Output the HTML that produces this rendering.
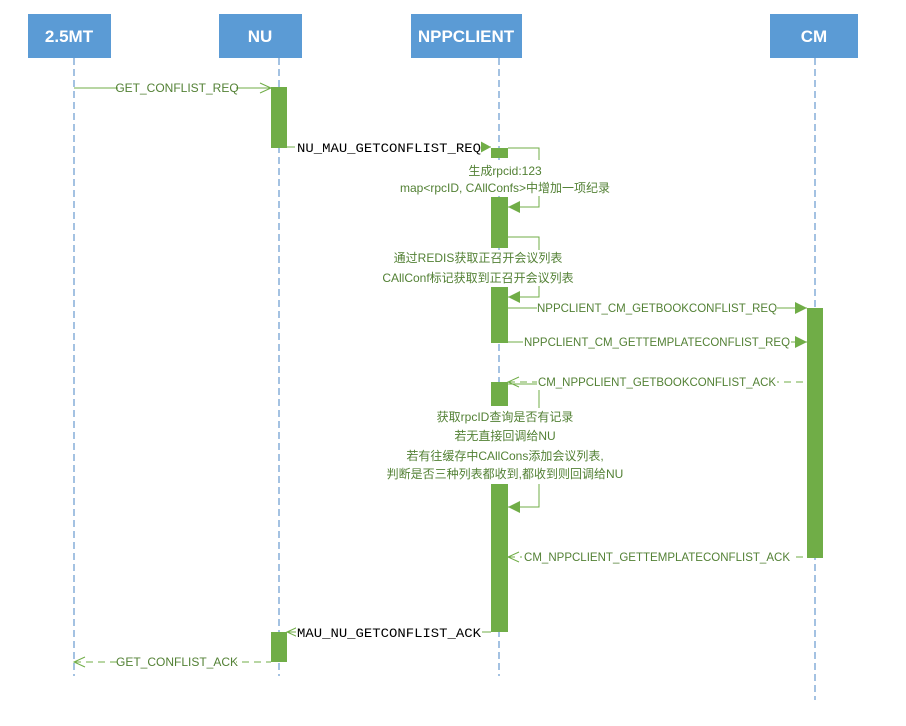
<!DOCTYPE html>
<html><head><meta charset="utf-8"><style>
html,body{margin:0;padding:0;background:#fff;width:906px;height:726px;overflow:hidden}
text{font-family:"Liberation Sans","Noto Sans CJK SC",sans-serif;font-size:12px;fill:#538135}
.b{fill:#000;font-family:"Liberation Mono","Noto Sans CJK SC",monospace;font-size:13px}
.h{fill:#fff;font-weight:bold;font-size:17px}
</style></head><body>
<svg width="906" height="726" xmlns="http://www.w3.org/2000/svg">
<g stroke="#4a86c5" stroke-dasharray="7,4" stroke-width="1">
<line x1="74" y1="58" x2="74" y2="676"/>
<line x1="279" y1="58" x2="279" y2="676"/>
<line x1="499" y1="58" x2="499" y2="676"/>
<line x1="815" y1="58" x2="815" y2="700"/>
</g>
<g fill="#5b9bd5">
<rect x="28" y="14" width="83" height="44"/>
<rect x="219" y="14" width="83" height="44"/>
<rect x="411" y="14" width="111" height="44"/>
<rect x="770" y="14" width="88" height="44"/>
</g>
<text class="h" x="69" y="42" text-anchor="middle">2.5MT</text>
<text class="h" x="260" y="42" text-anchor="middle">NU</text>
<text class="h" x="466" y="42" text-anchor="middle">NPPCLIENT</text>
<text class="h" x="814" y="42" text-anchor="middle">CM</text>
<g stroke="#70ad47" fill="none" stroke-width="1">
<line x1="74" y1="88" x2="271" y2="88"/>
<polyline points="260,83 271,88 260,93"/>
<line x1="287" y1="147" x2="491" y2="147"/>
<polyline points="508,148 539,148 539,207 508,207"/>
<polyline points="508,237 539,237 539,297 508,297"/>
<polyline points="508,384 539,384 539,507 508,507"/>
<line x1="508" y1="308" x2="807" y2="308"/>
<line x1="491" y1="342" x2="807" y2="342"/>
<line x1="508" y1="382" x2="807" y2="382" stroke-dasharray="7,5"/>
<polyline points="519,377 508,382 519,387"/>
<line x1="508" y1="557" x2="807" y2="557" stroke-dasharray="7,5"/>
<polyline points="519,552 508,557 519,562"/>
<line x1="287" y1="632" x2="491" y2="632"/>
<polyline points="298,627 287,632 298,637"/>
<line x1="74" y1="662" x2="271" y2="662" stroke-dasharray="7,5"/>
<polyline points="85,657 74,662 85,667"/>
</g>
<rect x="380" y="160" width="250" height="36" fill="#fff"/>
<rect x="385" y="250" width="190" height="36" fill="#fff"/>
<rect x="360" y="408" width="290" height="76" fill="#fff"/>
<g fill="#70ad47">
<rect x="271" y="87" width="16" height="61"/>
<rect x="271" y="632" width="16" height="30"/>
<rect x="491" y="148" width="17" height="10"/>
<rect x="491" y="197" width="17" height="51"/>
<rect x="491" y="287" width="17" height="56"/>
<rect x="491" y="382" width="17" height="24"/>
<rect x="491" y="484" width="17" height="148"/>
<rect x="807" y="308" width="16" height="250"/>
<polygon points="491,147 480,141 480,153"/>
<polygon points="508,207 520,201 520,213"/>
<polygon points="508,297 520,291 520,303"/>
<polygon points="508,507 520,501 520,513"/>
<polygon points="807,308 795,302 795,314"/>
<polygon points="807,342 795,336 795,348"/>
</g>
<g>
<rect x="118" y="80" width="118" height="16" fill="#fff"/>
<text x="177" y="92" text-anchor="middle">GET_CONFLIST_REQ</text>
<rect x="295" y="139" width="186" height="16" fill="#fff"/>
<text class="b" x="389" y="152" text-anchor="middle" textLength="184" lengthAdjust="spacingAndGlyphs">NU_MAU_GETCONFLIST_REQ</text>
<text x="505" y="175" text-anchor="middle" font-size="13">生成rpcid:123</text>
<text x="505" y="192" text-anchor="middle" font-size="13">map&lt;rpcID, CAllConfs&gt;中增加一项纪录</text>
<text x="478" y="262" text-anchor="middle" font-size="13">通过REDIS获取正召开会议列表</text>
<text x="478" y="282" text-anchor="middle" font-size="13">CAllConf标记获取到正召开会议列表</text>
<rect x="537" y="300" width="240" height="16" fill="#fff"/>
<text x="657" y="312" text-anchor="middle" textLength="240" lengthAdjust="spacingAndGlyphs">NPPCLIENT_CM_GETBOOKCONFLIST_REQ</text>
<rect x="523" y="334" width="268" height="16" fill="#fff"/>
<text x="657" y="346" text-anchor="middle" textLength="266" lengthAdjust="spacingAndGlyphs">NPPCLIENT_CM_GETTEMPLATECONFLIST_REQ</text>
<rect x="537" y="374" width="240" height="16" fill="#fff"/>
<text x="657" y="386" text-anchor="middle" textLength="238" lengthAdjust="spacingAndGlyphs">CM_NPPCLIENT_GETBOOKCONFLIST_ACK</text>
<text x="505" y="421" text-anchor="middle" font-size="13">获取rpcID查询是否有记录</text>
<text x="505" y="440" text-anchor="middle" font-size="13">若无直接回调给NU</text>
<text x="505" y="460" text-anchor="middle" font-size="13">若有往缓存中CAllCons添加会议列表,</text>
<text x="505" y="478" text-anchor="middle" font-size="13">判断是否三种列表都收到,都收到则回调给NU</text>
<rect x="522" y="549" width="270" height="16" fill="#fff"/>
<text x="657" y="561" text-anchor="middle" textLength="266" lengthAdjust="spacingAndGlyphs">CM_NPPCLIENT_GETTEMPLATECONFLIST_ACK</text>
<rect x="296" y="624" width="186" height="16" fill="#fff"/>
<text class="b" x="389" y="637" text-anchor="middle" textLength="184" lengthAdjust="spacingAndGlyphs">MAU_NU_GETCONFLIST_ACK</text>
<rect x="118" y="654" width="118" height="16" fill="#fff"/>
<text x="177" y="666" text-anchor="middle">GET_CONFLIST_ACK</text>
</g>
</svg>
</body></html>
